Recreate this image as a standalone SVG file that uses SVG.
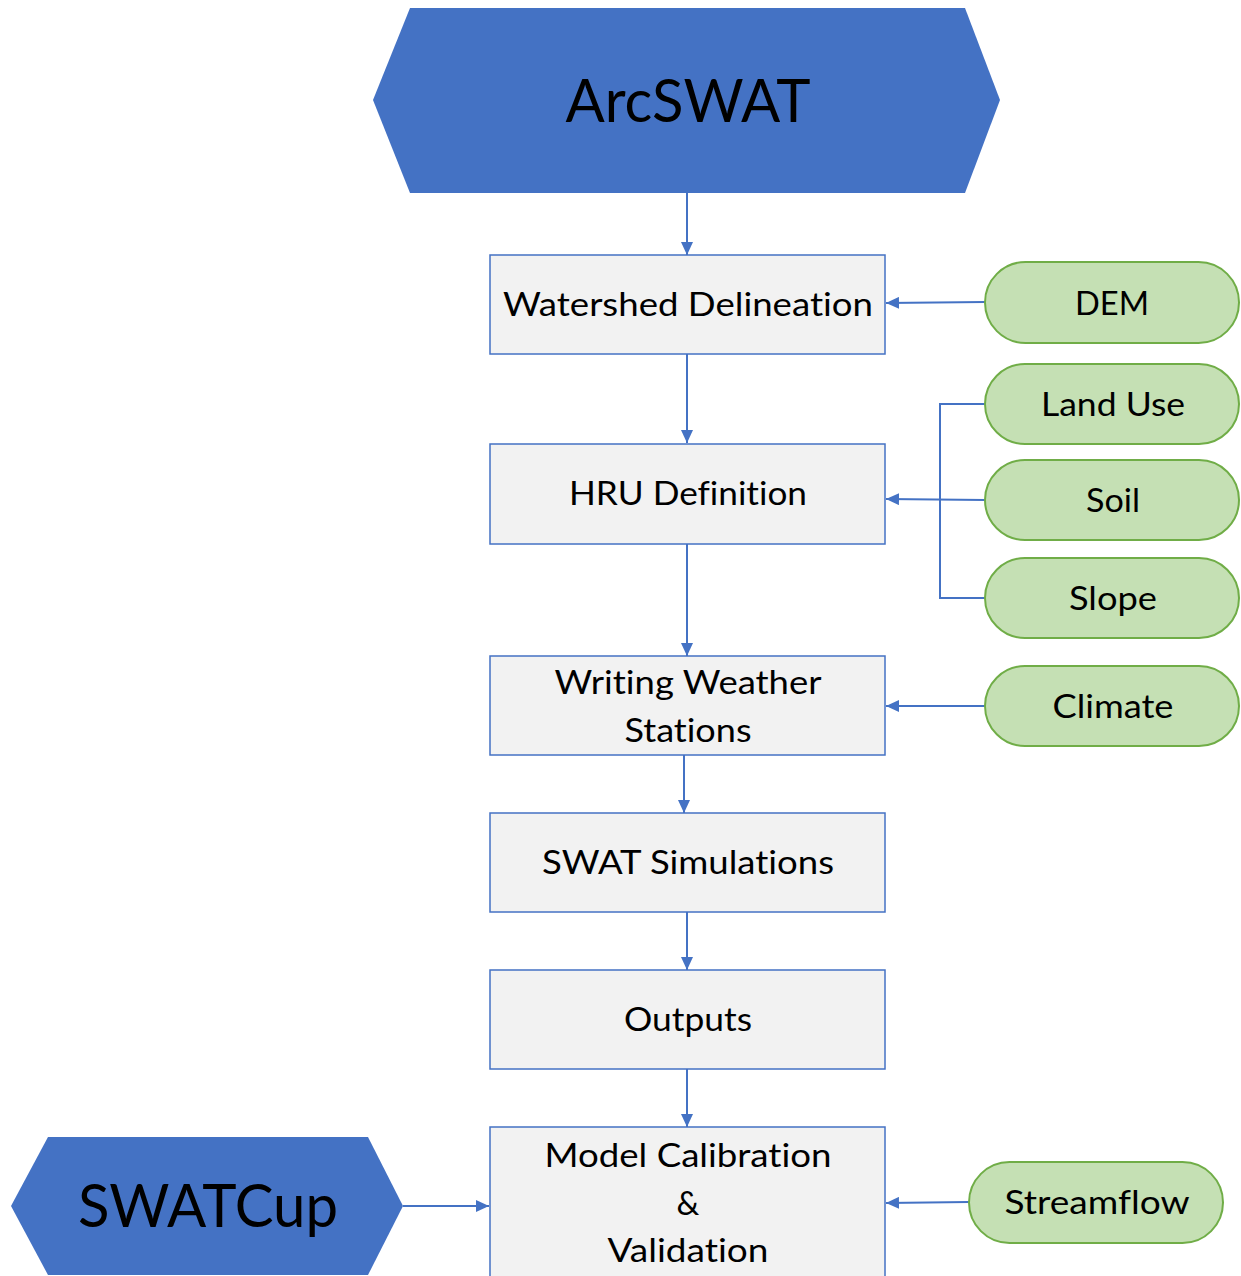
<svg xmlns="http://www.w3.org/2000/svg" width="1241" height="1276" viewBox="0 0 1241 1276">
<defs>
<marker id="ah" markerWidth="13" markerHeight="12" refX="13" refY="6" orient="auto" markerUnits="userSpaceOnUse">
<path d="M0,0 L13,6 L0,12 Z" fill="#4472C4"/>
</marker>
<style>
.hex{fill:#4472C4;}
.box{fill:#F2F2F2;stroke:#4472C4;stroke-width:1.5;}
.pill{fill:#C5E0B4;stroke:#70AD47;stroke-width:2;}
.t{font-family:Lato,"Open Sans","Liberation Sans",sans-serif;font-size:32px;fill:#000;text-anchor:middle;font-variant-ligatures:none;}
.big{font-family:Lato,"Open Sans","Liberation Sans",sans-serif;font-size:60px;fill:#000;text-anchor:middle;}
.c{fill:none;stroke:#4472C4;stroke-width:2;}
</style>
</defs>
<rect width="1241" height="1276" fill="#FFFFFF"/>
<g id="connectors">
<line class="c" x1="687" y1="193" x2="687" y2="255" marker-end="url(#ah)"/>
<line class="c" x1="687" y1="354" x2="687" y2="443" marker-end="url(#ah)"/>
<line class="c" x1="687" y1="544" x2="687" y2="656" marker-end="url(#ah)"/>
<line class="c" x1="684" y1="755" x2="684" y2="813" marker-end="url(#ah)"/>
<line class="c" x1="687" y1="912" x2="687" y2="970" marker-end="url(#ah)"/>
<line class="c" x1="687" y1="1069" x2="687" y2="1127" marker-end="url(#ah)"/>
<line class="c" x1="985" y1="302" x2="886" y2="303" marker-end="url(#ah)"/>
<polyline class="c" points="985,404 940,404 940,598 985,598"/>
<line class="c" x1="985" y1="500" x2="886" y2="499" marker-end="url(#ah)"/>
<line class="c" x1="985" y1="706" x2="886" y2="706" marker-end="url(#ah)"/>
<line class="c" x1="969" y1="1202" x2="886" y2="1203" marker-end="url(#ah)"/>
<line class="c" x1="403" y1="1206" x2="489" y2="1206" marker-end="url(#ah)"/>
</g>
<g id="arcswat">
<polygon class="hex" points="373,100 410,8 965,8 1000,100 965,193 410,193"/>
<text class="big" x="688" y="122" textLength="245" lengthAdjust="spacingAndGlyphs">ArcSWAT</text>
</g>
<g id="watershed">
<rect class="box" x="490" y="255" width="395" height="99"/>
<text class="t" x="688" y="316" textLength="370" lengthAdjust="spacingAndGlyphs">Watershed Delineation</text>
</g>
<g id="hru">
<rect class="box" x="490" y="444" width="395" height="100"/>
<text class="t" x="688" y="505" textLength="238" lengthAdjust="spacingAndGlyphs">HRU Definition</text>
</g>
<g id="weather">
<rect class="box" x="490" y="656" width="395" height="99"/>
<text class="t" x="688" y="694" textLength="267" lengthAdjust="spacingAndGlyphs">Writing Weather</text>
<text class="t" x="688" y="742" textLength="127" lengthAdjust="spacingAndGlyphs">Stations</text>
</g>
<g id="simulations">
<rect class="box" x="490" y="813" width="395" height="99"/>
<text class="t" x="688" y="874" textLength="292" lengthAdjust="spacingAndGlyphs">SWAT Simulations</text>
</g>
<g id="outputs">
<rect class="box" x="490" y="970" width="395" height="99"/>
<text class="t" x="688" y="1031" textLength="128" lengthAdjust="spacingAndGlyphs">Outputs</text>
</g>
<g id="calibration">
<rect class="box" x="490" y="1127" width="395" height="160"/>
<text class="t" x="688" y="1167" textLength="287" lengthAdjust="spacingAndGlyphs">Model Calibration</text>
<text class="t" x="688" y="1215">&amp;</text>
<text class="t" x="688" y="1262" textLength="161" lengthAdjust="spacingAndGlyphs">Validation</text>
</g>
<g id="dem">
<rect class="pill" x="985" y="262" width="254" height="81" rx="40.5"/>
<text class="t" x="1112" y="315" textLength="74" lengthAdjust="spacingAndGlyphs">DEM</text>
</g>
<g id="landuse">
<rect class="pill" x="985" y="364" width="254" height="80" rx="40"/>
<text class="t" x="1113" y="416" textLength="144" lengthAdjust="spacingAndGlyphs">Land Use</text>
</g>
<g id="soil">
<rect class="pill" x="985" y="460" width="254" height="80" rx="40"/>
<text class="t" x="1113" y="512" textLength="54" lengthAdjust="spacingAndGlyphs">Soil</text>
</g>
<g id="slope">
<rect class="pill" x="985" y="558" width="254" height="80" rx="40"/>
<text class="t" x="1113" y="610" textLength="88" lengthAdjust="spacingAndGlyphs">Slope</text>
</g>
<g id="climate">
<rect class="pill" x="985" y="666" width="254" height="80" rx="40"/>
<text class="t" x="1113" y="718" textLength="121" lengthAdjust="spacingAndGlyphs">Climate</text>
</g>
<g id="streamflow">
<rect class="pill" x="969" y="1162" width="254" height="81" rx="40.5"/>
<text class="t" x="1097" y="1214" textLength="185" lengthAdjust="spacingAndGlyphs">Streamflow</text>
</g>
<g id="swatcup">
<polygon class="hex" points="11,1206 48,1137 368,1137 403,1206 368,1275 48,1275"/>
<text class="big" x="208" y="1227" textLength="260" lengthAdjust="spacingAndGlyphs">SWATCup</text>
</g>
</svg>
